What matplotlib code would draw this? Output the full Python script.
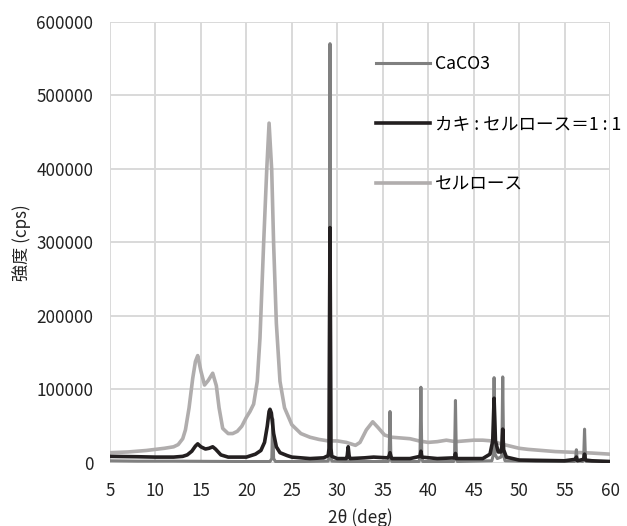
import matplotlib
matplotlib.use("Agg")
import matplotlib.pyplot as plt

plt.rcParams['font.family'] = ['Noto Sans CJK JP', 'DejaVu Sans']

# CaCO3
caco3_x = [5, 8, 12, 16, 20, 22.6, 22.8, 22.9, 23.0, 23.2, 26, 29.0, 29.1, 29.2, 29.3, 29.4,
           31, 35.6, 35.7, 35.8, 35.9, 36.0, 39.0, 39.1, 39.2, 39.3, 39.4, 42.8, 42.9, 43.0, 43.1,
           43.2, 47.0, 47.15, 47.25, 47.35, 47.6, 48.0, 48.1, 48.2, 48.3, 48.45, 52, 56.1, 56.2,
           56.3, 56.4, 57.0, 57.1, 57.2, 57.3, 57.4, 60]
caco3_y = [3000, 2500, 2500, 2200, 2000, 2000, 6000, 60000, 6000, 2000, 2000, 2500, 8000, 570000,
           8000, 2500, 2000, 2000, 6000, 70000, 6000, 2000, 2000, 8000, 103000, 8000, 2000, 2000,
           7000, 85000, 7000, 2000, 3000, 10000, 116000, 12000, 6000, 8000, 12000, 117000, 10000,
           3000, 2000, 2000, 4000, 18000, 3000, 2000, 5000, 46000, 5000, 2000, 1500]

# カキ:セルロース=1:1
mix_x = [5, 8, 10, 12, 13, 13.5, 14.0, 14.4, 14.65, 15.0, 15.5, 15.9, 16.3, 16.6, 17.2, 18,
         20, 21.0, 21.6, 22.0, 22.3, 22.5, 22.6, 22.75, 23.0, 23.3, 23.7, 24.5, 25, 27, 28.5,
         29.0, 29.1, 29.2, 29.3, 29.4, 30, 31.0, 31.1, 31.2, 31.3, 31.4, 33, 34, 35.5, 35.7,
         35.8, 35.9, 36, 38, 39.1, 39.2, 39.3, 41, 42.9, 43.0, 43.1, 46, 46.8, 47.1, 47.25,
         47.4, 47.7, 48.0, 48.1, 48.2, 48.3, 48.6, 50, 55, 56.2, 56.3, 56.4, 57.1, 57.2, 57.3,
         58, 60]
mix_y = [9000, 8500, 8000, 8000, 9000, 11000, 16000, 23000, 26000, 22000, 19000, 20000, 22000,
         19000, 11000, 8000, 8000, 12000, 17000, 28000, 50000, 70000, 73000, 68000, 40000,
         22000, 14000, 10000, 8000, 6000, 7000, 10000, 20000, 320000, 20000, 9000, 6000, 6000,
         10000, 22000, 10000, 6000, 7000, 8000, 7000, 9000, 14000, 9000, 6000, 6000, 9000, 16000,
         8000, 6000, 7000, 13000, 6000, 6000, 12000, 30000, 88000, 30000, 15000, 15000, 22000,
         46000, 18000, 8000, 4000, 3000, 5000, 8000, 3000, 5000, 12000, 4000, 3000, 2000]

# セルロース
cel_x = [5, 7, 9, 11, 12, 12.5, 13.0, 13.3, 13.7, 14.1, 14.4, 14.65, 15.0, 15.4, 15.8, 16.3,
         16.7, 17.0, 17.4, 18.0, 18.5, 19.0, 19.5, 20.0, 20.4, 20.8, 21.2, 21.5, 21.9, 22.24,
         22.5, 22.79, 23.0, 23.3, 23.7, 24.2, 25, 26, 27, 28, 29, 30, 31, 32, 32.5, 33.2, 33.9,
         34.5, 35.2, 36, 37, 38, 39, 40, 41, 42, 43, 44, 45, 46, 47, 48, 49, 50, 51, 52, 54,
         56, 58, 60]
cel_y = [14000, 15000, 17000, 20000, 22000, 25000, 33000, 45000, 75000, 115000, 138000, 146000,
         125000, 106000, 112000, 122000, 105000, 75000, 47000, 40000, 40000, 43000, 50000,
         62000, 70000, 80000, 111000, 170000, 298000, 398000, 462000, 398000, 298000, 190000,
         111000, 75000, 52000, 40000, 35000, 32000, 30000, 30000, 28000, 24000, 28000, 45000,
         56000, 48000, 38000, 35000, 34000, 33000, 30000, 28000, 29000, 31000, 29000, 30000,
         31000, 31000, 30000, 26000, 23000, 20000, 18500, 17500, 15500, 14500, 13500, 12000]

x_ticks = [5, 10, 15, 20, 25, 30, 35, 40, 45, 50, 55, 60]
y_ticks = [0, 100000, 200000, 300000, 400000, 500000, 600000]

fig = plt.figure(figsize=(6.27, 5.26), dpi=100)
ax = fig.add_axes([0.1754, 0.1198, 0.7975, 0.8391])

l_cel, = ax.plot(cel_x, cel_y, color='#b0adad', lw=2.6, zorder=2, label='セルロース')
l_ca, = ax.plot(caco3_x, caco3_y, color='#808080', lw=2.2, zorder=3, label='CaCO3')
l_mix, = ax.plot(mix_x, mix_y, color='#231f20', lw=2.6, zorder=4, label='カキ : セルロース＝1 : 1')

ax.set_xlim(5, 60)
ax.set_ylim(0, 600000)
ax.set_xticks(x_ticks)
ax.set_yticks(y_ticks)
ax.set_yticklabels([str(v) for v in y_ticks])
ax.grid(True, color='#d9d9d9', lw=1.4)
ax.set_axisbelow(True)
for s in ax.spines.values():
    s.set_visible(False)
ax.tick_params(length=0, labelsize=12.3, colors='#222222')
ax.tick_params(axis='y', pad=12)
ax.tick_params(axis='x', pad=14)

ax.set_xlabel('2θ (deg)', fontsize=12.3, color='#222222', labelpad=6)
ax.set_ylabel('強度 (cps)', fontsize=12.3, color='#222222', labelpad=4)

ax.legend([l_ca, l_mix, l_cel], ['CaCO3', 'カキ : セルロース＝1 : 1', 'セルロース'],
          loc='center left', bbox_to_anchor=(0.532, 0.767), frameon=False,
          fontsize=12.7, labelspacing=2.38, handlelength=3.05, handletextpad=0.28,
          borderpad=0, borderaxespad=0)

fig.savefig('out.png', dpi=100)
